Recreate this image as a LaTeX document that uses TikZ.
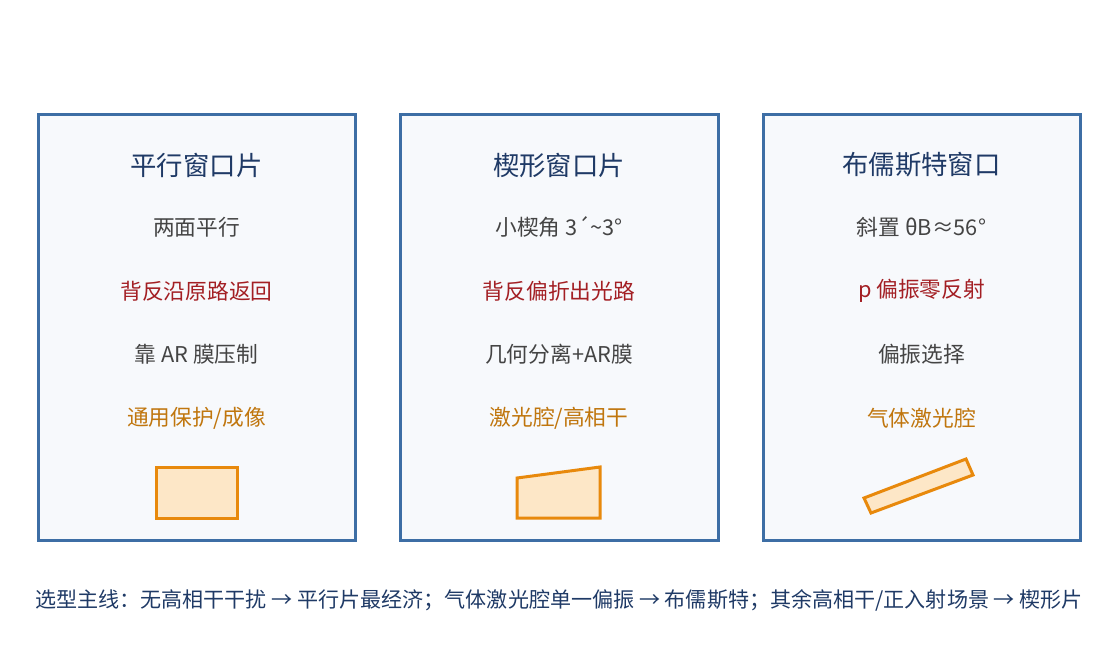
\documentclass[tikz,border=0pt]{standalone}
\usepackage{fontspec}
\setmainfont{Noto Sans CJK SC}
\definecolor{panelBlue}{RGB}{61,110,165}
\definecolor{panelFill}{RGB}{247,249,252}
\definecolor{titleBlue}{RGB}{31,58,102}
\definecolor{bodyGray}{RGB}{68,68,68}
\definecolor{noteRed}{RGB}{163,31,36}
\definecolor{noteOrange}{RGB}{192,118,14}
\definecolor{glassEdge}{RGB}{232,137,12}
\definecolor{glassFill}{RGB}{253,231,199}

\tikzset{every picture/.style={line width=0.75pt}}
\tikzset{
  paneltitle/.style={inner sep=0.75pt, color=titleBlue, font=\fontsize{19.8}{24}\selectfont},
  panelline/.style={inner sep=0.75pt, font=\fontsize{16.3}{20}\selectfont},
  glass/.style={draw=glassEdge, fill=glassFill, line width=2.25}
}

\begin{document}
\begin{tikzpicture}[x=0.75pt,y=0.75pt,yscale=-1,xscale=1]
\path [use as bounding box] (0,0) rectangle (1117,664);

%Shape: Rectangle [panel 1]
\draw [color=panelBlue, fill=panelFill, line width=2.25] (38,114) rectangle (355,540) ;
%Shape: Rectangle [panel 2]
\draw [color=panelBlue, fill=panelFill, line width=2.25] (400,114) rectangle (718,540) ;
%Shape: Rectangle [panel 3]
\draw [color=panelBlue, fill=panelFill, line width=2.25] (763,114) rectangle (1080,540) ;

%Shape: Rectangle [parallel window]
\draw [glass] (156,467) rectangle (237,518) ;
%Shape: Polygon [wedge window]
\draw [glass] (517,478) -- (600,467) -- (600,518) -- (517,518) -- cycle ;
%Shape: Polygon [brewster window]
\draw [glass] (864,498) -- (966,459) -- (973,475) -- (871,513) -- cycle ;

% Text Node
\draw (196.5,165) node [paneltitle] (title1) {平行窗口片};
% Text Node
\draw (196.5,227) node [panelline, color=bodyGray] (a1) {两面平行};
% Text Node
\draw (196.5,291) node [panelline, color=noteRed] (b1) {背反沿原路返回};
% Text Node
\draw (196.5,354) node [panelline, color=bodyGray] (c1) {靠 AR 膜压制};
% Text Node
\draw (196.5,418) node [panelline, color=noteOrange] (d1) {通用保护/成像};

% Text Node
\draw (559,165) node [paneltitle] (title2) {楔形窗口片};
% Text Node
\draw (559,227) node [panelline, color=bodyGray] (a2) {小楔角 3´\textasciitilde3°};
% Text Node
\draw (559,291) node [panelline, color=noteRed] (b2) {背反偏折出光路};
% Text Node
\draw (559,354) node [panelline, color=bodyGray] (c2) {几何分离+AR膜};
% Text Node
\draw (559,418) node [panelline, color=noteOrange] (d2) {激光腔/高相干};

% Text Node
\draw (921.5,165) node [paneltitle] (title3) {布儒斯特窗口};
% Text Node
\draw (921.5,227) node [panelline, color=bodyGray] (a3) {斜置 θB≈56°};
% Text Node
\draw (921.5,291) node [panelline, color=noteRed] (b3) {p 偏振零反射};
% Text Node
\draw (921.5,354) node [panelline, color=bodyGray] (c3) {偏振选择};
% Text Node
\draw (921.5,418) node [panelline, color=noteOrange] (d3) {气体激光腔};

% Text Node
\draw (559,600) node [panelline, color=titleBlue, font=\fontsize{15.8}{19}\selectfont] (summary) {选型主线：无高相干干扰 → 平行片最经济；气体激光腔单一偏振 → 布儒斯特；其余高相干/正入射场景 → 楔形片};

\end{tikzpicture}
\end{document}
